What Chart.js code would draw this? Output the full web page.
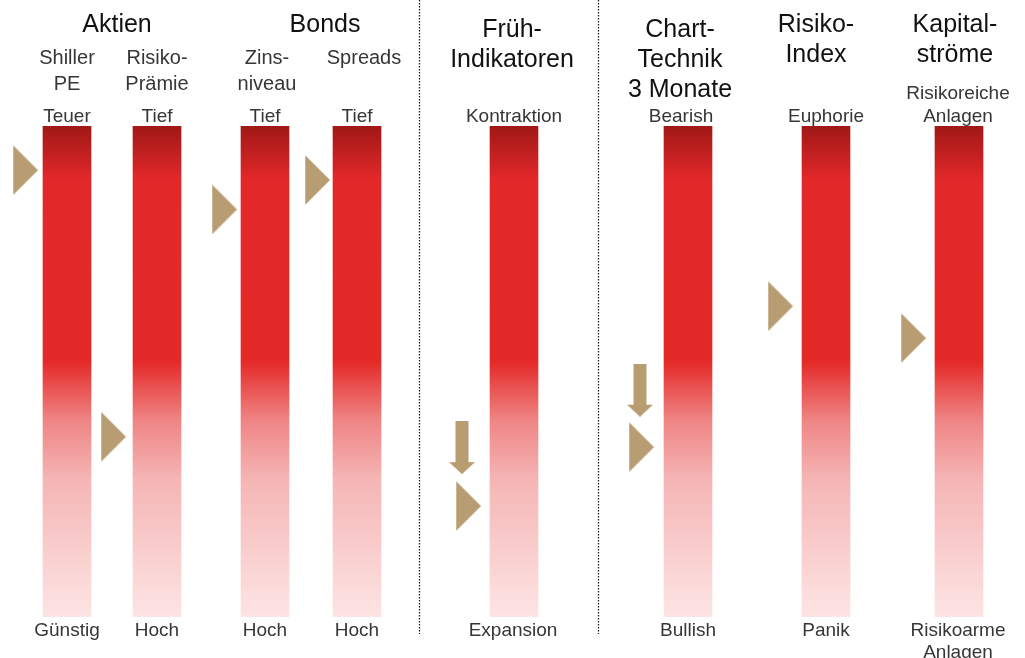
<!DOCTYPE html>
<html>
<head>
<meta charset="utf-8">
<script src="https://cdn.jsdelivr.net/npm/chart.js@4.4.1/dist/chart.umd.min.js"></script>
<style>
  html, body { margin: 0; padding: 0; background: #fff; }
  #c { display: block; }
</style>
</head>
<body>
<canvas id="c" width="1025" height="658"></canvas>
<script>
// ---- data ----
const categories = ['Shiller PE', 'Risiko-Prämie', 'Zinsniveau', 'Spreads', 'Früh-Indikatoren', 'Chart-Technik 3 Monate', 'Risiko-Index', 'Kapitalströme'];
const markerValues = [91, 36.7, 83, 89, 22.6, 34.6, 63.3, 56.8];      // 0 = bottom, 100 = top
const arrowValues = [null, null, null, null, 34.5, 46.2, null, null]; // downward trend arrows
const topLabels = [['Teuer'], ['Tief'], ['Tief'], ['Tief'], ['Kontraktion'], ['Bearish'], ['Euphorie'], ['Risikoreiche', 'Anlagen']];
const bottomLabels = [['Günstig'], ['Hoch'], ['Hoch'], ['Hoch'], ['Expansion'], ['Bullish'], ['Panik'], ['Risikoarme', 'Anlagen']];
const subHeaders = [['Shiller', 'PE'], ['Risiko-', 'Prämie'], ['Zins-', 'niveau'], ['Spreads']];
const groupHeaders = [['Aktien'], ['Bonds'], ['Früh-', 'Indikatoren'], ['Chart-', 'Technik', '3 Monate'], ['Risiko-', 'Index'], ['Kapital-', 'ströme']];

// ---- layout (not data) ----
const columnX = [67, 157, 265, 357, 514, 688, 826, 959];
const markerGap = [5, 7, 4, 3, 9, 10, 9, 9];
const arrowGap = [0, 0, 0, 0, 28, 24, 0, 0];
const groupX = [117, 325, 512, 680, 816, 955];
const groupBaseline = [32, 32, 37, 37, 32, 32];
const subX = [67, 157, 267, 364];
const topLabelX = [67, 157, 265, 357, 514, 681, 826, 958];
const bottomLabelX = [67, 157, 265, 357, 513, 688, 826, 958];
const separatorsX = [419, 598];
const HALF_BAR = 24;
const TAN = '#b89d72';
const FONT = '"Liberation Sans", Arial, Helvetica, sans-serif';

// marker images
function makeTriangle() {
  const cv = document.createElement('canvas');
  cv.width = 26; cv.height = 50;
  const c = cv.getContext('2d');
  c.fillStyle = TAN;
  c.beginPath();
  c.moveTo(0.5, 0); c.lineTo(25.5, 25); c.lineTo(0.5, 50); c.closePath();
  c.fill();
  return cv;
}
function makeArrow() {
  const cv = document.createElement('canvas');
  cv.width = 26; cv.height = 53;
  const c = cv.getContext('2d');
  c.fillStyle = TAN;
  c.beginPath();
  c.moveTo(6.5, 0); c.lineTo(19.5, 0); c.lineTo(19.5, 41); c.lineTo(26, 41);
  c.lineTo(13, 53); c.lineTo(0, 41); c.lineTo(6.5, 41); c.closePath();
  c.fill();
  return cv;
}
const triImg = makeTriangle();
const arrowImg = makeArrow();

function barGradient(context) {
  const chart = context.chart;
  if (!chart.chartArea) return '#e52a28';
  const y = chart.scales.y;
  const g = chart.ctx.createLinearGradient(0, y.getPixelForValue(100), 0, y.getPixelForValue(0));
  g.addColorStop(0.00, '#a01816');
  g.addColorStop(0.11, '#e3282a');
  g.addColorStop(0.48, '#e42a28');
  g.addColorStop(0.60, '#ef8585');
  g.addColorStop(0.72, '#f5b5b5');
  g.addColorStop(1.00, '#fde4e4');
  return g;
}

const decorPlugin = {
  id: 'decor',
  beforeDatasetsDraw(chart) {
    const c = chart.ctx;
    c.save();
    c.strokeStyle = '#222';
    c.lineWidth = 1.3;
    c.setLineDash([1.5, 1.5]);
    separatorsX.forEach(x => {
      c.beginPath();
      c.moveTo(x + 0.5, 0);
      c.lineTo(x + 0.5, 634);
      c.stroke();
    });
    c.restore();
  },
  afterDatasetsDraw(chart) {
    const c = chart.ctx;
    const ys = chart.scales.y;
    const topPx = ys.getPixelForValue(100), botPx = ys.getPixelForValue(0);
    c.save();
    c.textAlign = 'center';
    c.textBaseline = 'alphabetic';
    c.fillStyle = '#111';
    c.font = '25px ' + FONT;
    groupHeaders.forEach((lines, i) => {
      lines.forEach((t, k) => c.fillText(t, groupX[i], groupBaseline[i] + k * 30));
    });
    c.fillStyle = '#363636';
    c.font = '20px ' + FONT;
    subHeaders.forEach((lines, i) => {
      lines.forEach((t, k) => c.fillText(t, subX[i], 64 + k * 26));
    });
    c.font = '19px ' + FONT;
    topLabels.forEach((lines, i) => {
      const n = lines.length;
      lines.forEach((t, k) => c.fillText(t, topLabelX[i], topPx - 4 - (n - 1 - k) * 23));
    });
    bottomLabels.forEach((lines, i) => {
      lines.forEach((t, k) => c.fillText(t, bottomLabelX[i], botPx + 19 + k * 22));
    });
    c.restore();
  }
};

const chart = new Chart(document.getElementById('c'), {
  data: {
    datasets: [
      {
        type: 'bar',
        data: categories.map((c, i) => ({ x: columnX[i], y: [0, 100] })),
        backgroundColor: barGradient,
        borderWidth: 0,
        barThickness: 48,
        order: 3
      },
      {
        type: 'scatter',
        data: categories.map((c, i) => ({ x: columnX[i] - HALF_BAR - markerGap[i] - 12.5, y: markerValues[i] })),
        pointStyle: triImg,
        radius: 25,
        clip: false,
        order: 2
      },
      {
        type: 'scatter',
        data: categories.map((c, i) => ({ x: columnX[i] - HALF_BAR - arrowGap[i], y: arrowValues[i] })),
        pointStyle: arrowImg,
        radius: 26,
        clip: false,
        order: 1
      }
    ]
  },
  options: {
    responsive: false,
    animation: false,
    events: [],
    layout: { autoPadding: false, padding: { top: 126, bottom: 41, left: 0, right: 0 } },
    plugins: { legend: { display: false }, tooltip: { enabled: false } },
    scales: {
      x: { type: 'linear', min: 0, max: 1025, offset: false, display: false },
      y: { type: 'linear', min: 0, max: 100, display: false }
    }
  },
  plugins: [decorPlugin]
});
</script>
</body>
</html>
